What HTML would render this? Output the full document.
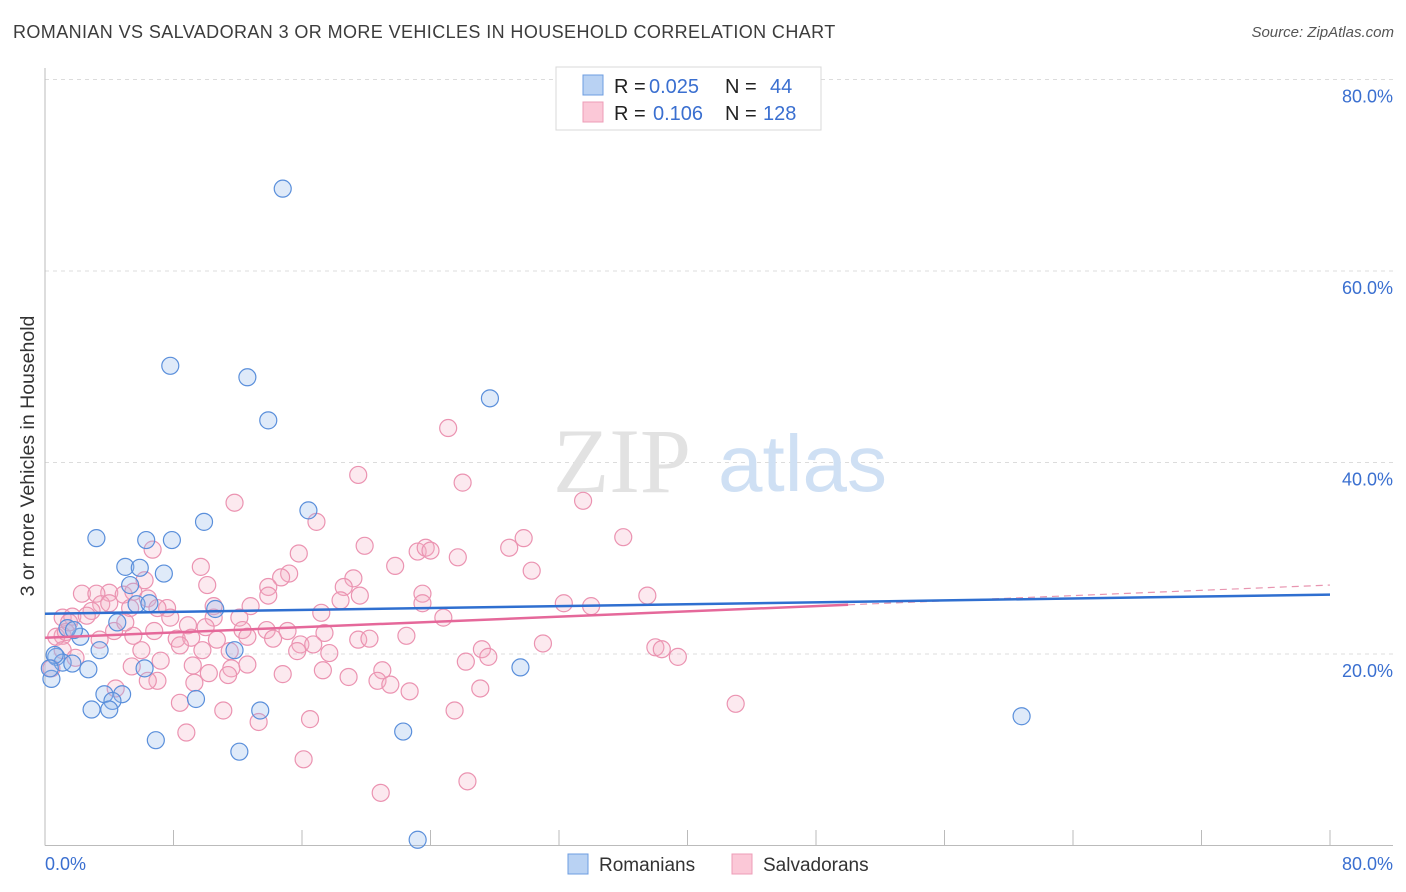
<!DOCTYPE html>
<html><head><meta charset="utf-8">
<style>
body{margin:0;background:#fff;font-family:"Liberation Sans",sans-serif;}
#wrap{position:relative;width:1406px;height:892px;overflow:hidden;}
.title{position:absolute;left:13px;top:22px;font-size:18px;color:#3c3c3c;letter-spacing:0.4px;}
.source{position:absolute;right:12px;top:24px;font-size:15px;color:#555;font-style:italic;}
</style></head>
<body>
<div id="wrap">
<div class="title">ROMANIAN VS SALVADORAN 3 OR MORE VEHICLES IN HOUSEHOLD CORRELATION CHART</div>
<div class="source">Source: ZipAtlas.com</div>
<svg id="chart" width="1406" height="892" style="position:absolute;left:0;top:0"></svg>
</div>
<script>
const blueX=[14.8,7.8,12.6,13.9,27.7,16.4,9.9,3.2,6.3,7.9,5.0,5.9,7.4,5.3,5.7,6.5,10.6,4.5,2.2,1.4,3.4,11.8,0.7,1.1,1.7,2.7,6.2,29.6,0.4,3.7,4.8,4.2,9.4,2.9,4.0,13.4,60.8,22.3,6.9,12.1,23.2,0.6,0.3,1.8];
const blueY=[68.6,50.1,48.9,44.4,46.7,35.0,33.8,32.1,31.9,31.9,29.1,29.0,28.4,27.2,25.2,25.3,24.7,23.3,21.8,22.7,20.4,20.4,19.7,19.1,19.0,18.4,18.5,18.6,17.4,15.8,15.8,15.1,15.3,14.2,14.2,14.1,13.5,11.9,11.0,9.8,0.6,19.9,18.5,22.5];
const pinkX=[25.1,19.5,26.0,11.8,33.5,16.9,29.8,36.0,19.9,6.7,15.8,23.2,23.7,24.0,28.9,25.7,9.7,21.8,15.2,30.3,14.7,6.2,19.2,18.6,10.1,13.9,4.0,2.3,4.9,3.2,5.5,13.9,23.5,19.6,37.5,3.5,6.4,2.9,4.0,10.5,7.6,5.3,18.4,32.3,34.0,12.8,23.5,7.8,17.2,10.5,1.1,1.7,2.6,24.8,12.1,6.8,4.3,10.0,8.9,12.3,13.8,15.1,1.1,12.6,17.4,19.5,20.2,22.5,8.2,9.1,10.7,5.5,14.2,15.9,16.7,17.7,27.2,31.0,38.0,38.4,39.4,6.0,11.5,8.4,9.8,15.7,27.6,26.2,7.2,5.4,9.2,12.6,11.6,17.3,21.0,7.0,10.2,11.4,14.8,18.9,20.7,21.5,22.7,4.4,9.3,6.4,8.4,11.1,13.3,27.1,25.5,16.5,43.0,8.8,16.1,26.3,20.9,0.7,0.4,1.1,1.9,1.3,1.5,3.4,5.0,7.0];
const pinkY=[43.6,38.7,37.9,35.8,36.0,33.8,32.1,32.2,31.3,30.9,30.5,30.7,31.1,30.8,31.1,30.1,29.1,29.2,28.4,28.7,28.0,27.7,27.9,27.0,27.2,27.0,26.4,26.3,26.2,26.3,26.5,26.1,26.3,26.1,26.1,25.2,25.8,24.5,25.3,25.0,24.8,24.8,25.6,25.3,25.0,25.0,25.3,23.8,24.3,23.8,23.8,23.9,24.0,23.8,23.8,22.4,22.4,22.8,23.0,22.5,22.5,22.4,21.9,21.8,22.2,21.5,21.6,21.9,21.6,21.7,21.5,21.9,21.6,21.0,21.0,20.1,20.5,21.1,20.7,20.5,19.7,20.4,20.3,20.9,20.4,20.3,19.7,19.2,19.3,18.7,18.8,18.9,18.5,18.3,18.3,17.2,18.0,17.8,17.9,17.6,17.2,16.8,16.1,16.4,17.0,17.2,14.9,14.1,12.9,16.4,14.1,13.2,14.8,11.8,9.0,6.7,5.5,21.8,18.5,20.4,19.6,22.3,23.3,21.5,23.3,24.8];
const yTicks=[20,40,60,80];
const yTickLabels=["20.0%","40.0%","60.0%","80.0%"];
const xTicks=[0,8,16,24,32,40,48,56,64,72,80];
const blueTrend=[24.2,26.2];
const pinkTrend=[21.7,27.2];
const pinkSolidEnd=50;

const svg=document.getElementById('chart');
const NS='http://www.w3.org/2000/svg';
const X=v=>45+v/80*1285;
const Y=v=>845.5-v/20*191.5;
function mk(tag,attrs,parent){const e=document.createElementNS(NS,tag);for(const k in attrs)e.setAttribute(k,attrs[k]);(parent||svg).appendChild(e);return e;}

yTicks.forEach((t,i)=>{
  const g=mk('line',{x1:45,x2:1393,y1:Y(t),y2:Y(t),stroke:'#dcdcdc','stroke-dasharray':'4,4','stroke-width':1});
  
  
  const l=mk('text',{x:1393,y:Y(t)+23,'text-anchor':'end','font-size':18,fill:'#3a6fd0','font-family':'Liberation Sans, sans-serif'});
  l.textContent=yTickLabels[i];
  
  
});
const ax=mk('line',{x1:45,x2:1393,y1:845.5,y2:845.5,stroke:'#bbb','stroke-width':1});


const ay=mk('line',{x1:45,x2:45,y1:68,y2:845.5,stroke:'#bbb','stroke-width':1});


xTicks.forEach(t=>{
  const k=mk('line',{x1:X(t),x2:X(t),y1:830,y2:845.5,stroke:'#bbb','stroke-width':1});
  
  
});
const wm=mk('text',{x:553,y:492,'font-size':92,fill:'#e2e2e2','font-family':'Liberation Serif, serif'});
wm.textContent='ZIP';


const wm2=mk('text',{x:718,y:491,'font-size':80,fill:'#cfe0f4','font-family':'Liberation Sans, sans-serif'});
wm2.textContent='atlas';



pinkX.forEach((v,i)=>{
  const c=mk('circle',{cx:X(v),cy:Y(pinkY[i]),r:8.5,fill:'rgba(246,175,198,0.28)',stroke:'#eb93b1','stroke-width':1.2});
  
  
});
blueX.forEach((v,i)=>{
  const c=mk('circle',{cx:X(v),cy:Y(blueY[i]),r:8.5,fill:'rgba(150,185,236,0.3)',stroke:'#5a8fdb','stroke-width':1.2});
  
  
});
const pk=v=>pinkTrend[0]+(pinkTrend[1]-pinkTrend[0])*v/80;
const pd=mk('line',{x1:X(pinkSolidEnd),y1:Y(pk(pinkSolidEnd)),x2:X(80),y2:Y(pk(80)),stroke:'#e895b0','stroke-width':1.2,'stroke-dasharray':'7,5'});


const bl=mk('line',{x1:X(0),y1:Y(blueTrend[0]),x2:X(80),y2:Y(blueTrend[1]),stroke:'#2f6fd0','stroke-width':2.5});


const pl=mk('line',{x1:X(0),y1:Y(pk(0)),x2:X(pinkSolidEnd),y2:Y(pk(pinkSolidEnd)),stroke:'#e5689a','stroke-width':2.5});



const xl0=mk('text',{x:45,y:870,'font-size':18,fill:'#3a6fd0','font-family':'Liberation Sans, sans-serif'});
xl0.textContent='0.0%';


const xl1=mk('text',{x:1393,y:870,'font-size':18,fill:'#3a6fd0','text-anchor':'end','font-family':'Liberation Sans, sans-serif'});
xl1.textContent='80.0%';


const yt=mk('text',{transform:'translate(34,456) rotate(-90)','text-anchor':'middle','font-size':19.5,fill:'#333','font-family':'Liberation Sans, sans-serif'});
yt.textContent='3 or more Vehicles in Household';



const lg=mk('g',{});


mk('rect',{x:556,y:67,width:265,height:63,fill:'#fff',stroke:'#d8d8d8'},lg);
mk('rect',{x:583,y:75,width:20,height:20,fill:'#b9d2f3',stroke:'#6d9de0'},lg);
mk('rect',{x:583,y:102,width:20,height:20,fill:'#fbc8d7',stroke:'#ee9cb7'},lg);
function t(x,y,s,c,name){const e=mk('text',{x:x,y:y,'font-size':20,fill:c,'font-family':'Liberation Sans, sans-serif'},lg);e.textContent=s;return e;}
t(614,93,'R =','#222','r-label-romanian');
t(649,93,'0.025','#3a6fd0','r-value-romanian');
t(725,93,'N =','#222','n-label-romanian');
t(770,93,'44','#3a6fd0','n-value-romanian');
t(614,120,'R =','#222','r-label-salvadoran');
t(653,120,'0.106','#3a6fd0','r-value-salvadoran');
t(725,120,'N =','#222','n-label-salvadoran');
t(763,120,'128','#3a6fd0','n-value-salvadoran');

const bl2=mk('g',{});


mk('rect',{x:568,y:854,width:20,height:20,fill:'#b9d2f3',stroke:'#6d9de0'},bl2);
mk('rect',{x:732,y:854,width:20,height:20,fill:'#fbc8d7',stroke:'#ee9cb7'},bl2);
const r1=mk('text',{x:599,y:871,'font-size':19,fill:'#333','font-family':'Liberation Sans, sans-serif'},bl2);
r1.textContent='Romanians';


const r2=mk('text',{x:763,y:871,'font-size':19,fill:'#333','font-family':'Liberation Sans, sans-serif'},bl2);
r2.textContent='Salvadorans';


</script>
</body></html>
